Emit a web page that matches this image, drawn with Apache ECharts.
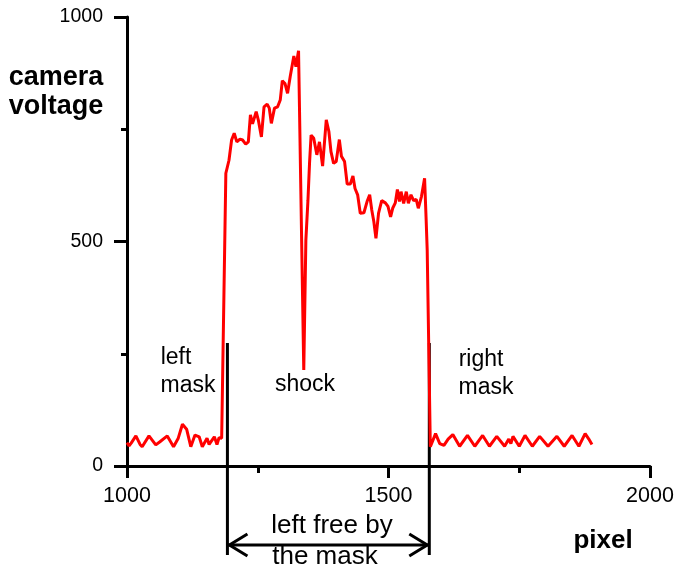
<!DOCTYPE html>
<html>
<head>
<meta charset="utf-8">
<script src="https://cdn.jsdelivr.net/npm/echarts@6/dist/echarts.min.js"></script>
<style>
html,body{margin:0;padding:0;background:#fff;}
#chart{width:679px;height:571px;}
</style>
</head>
<body>
<div id="chart"></div>
<script>
// ---- data ----
const pixel = [
  1000,1004,1008,1017,1025,1029,1042,1055,1063,1077,1089,1098,1106,1114,1122,1130,1138,1144,1153,1157,1167,1172,1176,1181,
  1189,1195,1200,1205,1210,1216,1221,1227,1232,1236,1240,1247,1251,1257,1262,1268,1272,1276,1282,1288,1293,1297,1302,1307,1312,1319,1323,1328,
  1338,1342,1346,1349,1352,1357,1363,1368,1374,1381,1386,1390,1395,1400,1406,1410,1416,1421,1427,1432,1436,1441,1446,1453,1459,1464,1468,1472,1476,1481,1487,1494,1499,1504,1508,1513,1517,1521,1524,1529,1534,1538,1543,1548,1553,1557,1563,1569,1572,1574,
  1580,1590,1598,1606,1614,1623,1636,1651,1665,1680,1693,1707,1722,1730,1734,1738,1750,1761,1775,1789,1805,1822,1836,1851,1864,1876,1883,1889
];
const voltage = [
  52,45,51,67,48,43,67,47,54,67,43,62,93,82,43,69,65,43,62,48,65,48,63,62,
  652,681,726,741,722,728,726,717,722,782,762,789,771,733,800,806,797,763,797,800,815,858,852,830,867,913,889,925,
  214,503,592,674,737,730,693,722,668,771,745,700,674,678,727,690,678,628,628,646,618,604,563,564,589,604,570,544,507,563,591,586,578,555,574,586,616,589,611,585,611,585,604,591,594,574,600,641,548,481,
  43,72,50,46,60,70,44,68,44,68,44,66,44,60,50,66,44,68,44,66,44,66,44,68,44,72,60,48
];
const xTicks = [1000, 1500, 2000];
const yTicks = [0, 500, 1000];
const maskEdges = [1192, 1578];
const maskTopVoltage = 274;

const seriesData = pixel.map((p, i) => [p, voltage[i]]);

const chart = echarts.init(document.getElementById('chart'), null, {renderer: 'canvas'});
const FONT = 'Liberation Sans, Arial, sans-serif';

chart.setOption({
  animation: false,
  backgroundColor: '#ffffff',
  grid: {left: 127, top: 17, right: 29, bottom: 105, containLabel: false},
  xAxis: {
    type: 'value',
    min: xTicks[0], max: xTicks[xTicks.length - 1], interval: 500,
    axisLine: {show: true, lineStyle: {color: '#000', width: 3}},
    axisTick: {show: true, inside: false, length: 12, lineStyle: {color: '#000', width: 3}},
    minorTick: {show: true, splitNumber: 2, length: 7, lineStyle: {color: '#000', width: 3}},
    splitLine: {show: false},
    axisLabel: {show: true, margin: 19, color: '#000', fontSize: 21.5, fontFamily: FONT, showMinLabel: true, showMaxLabel: true,
      formatter: v => String(v)}
  },
  yAxis: {
    type: 'value',
    min: yTicks[0], max: yTicks[yTicks.length - 1], interval: 500,
    axisLine: {show: true, lineStyle: {color: '#000', width: 3}},
    axisTick: {show: true, inside: false, length: 13, lineStyle: {color: '#000', width: 3}},
    minorTick: {show: true, splitNumber: 2, length: 6, lineStyle: {color: '#000', width: 3}},
    splitLine: {show: false},
    axisLabel: {show: true, margin: 24, color: '#000', fontSize: 19.5, fontFamily: FONT, showMinLabel: true, showMaxLabel: true,
      formatter: v => String(v)}
  },
  series: [{
    type: 'line',
    data: seriesData,
    showSymbol: false,
    symbol: 'none',
    lineStyle: {color: '#ff0000', width: 3},
    clip: false
  }]
});

// annotations placed from data coordinates
const leftTop = chart.convertToPixel({gridIndex: 0}, [maskEdges[0], maskTopVoltage]);
const rightTop = chart.convertToPixel({gridIndex: 0}, [maskEdges[1], maskTopVoltage]);
const lx = leftTop[0], rx = rightTop[0];
const lineBottom = 555;
const arrowY = 545;
const ah = 20, aw = 11;

const txt = (x, y, s, opts) => Object.assign({
  type: 'text', x: x, y: y,
  style: Object.assign({text: s, fill: '#000', font: '23px ' + FONT, textAlign: 'center', textVerticalAlign: 'middle'}, opts || {})
});

chart.setOption({
  graphic: [
    {type: 'line', shape: {x1: lx, y1: leftTop[1], x2: lx, y2: lineBottom}, style: {stroke: '#000', lineWidth: 3}},
    {type: 'line', shape: {x1: rx, y1: rightTop[1], x2: rx, y2: lineBottom}, style: {stroke: '#000', lineWidth: 3}},
    {type: 'line', shape: {x1: lx, y1: arrowY, x2: rx, y2: arrowY}, style: {stroke: '#000', lineWidth: 3}},
    {type: 'polyline', shape: {points: [[lx + ah, arrowY - aw], [lx + 2, arrowY], [lx + ah, arrowY + aw]]}, style: {stroke: '#000', lineWidth: 3, fill: null}},
    {type: 'polyline', shape: {points: [[rx - ah, arrowY - aw], [rx - 2, arrowY], [rx - ah, arrowY + aw]]}, style: {stroke: '#000', lineWidth: 3, fill: null}},
    txt(176, 358, 'left'),
    txt(188, 386, 'mask'),
    txt(305, 385, 'shock'),
    txt(481, 360, 'right'),
    txt(486, 388, 'mask'),
    txt(332, 526, 'left free by', {font: '26px ' + FONT}),
    txt(325, 557, 'the mask', {font: '26px ' + FONT}),
    txt(603, 541, 'pixel', {font: 'bold 26px ' + FONT}),
    txt(56, 78, 'camera', {font: 'bold 27px ' + FONT}),
    txt(56, 107, 'voltage', {font: 'bold 27px ' + FONT})
  ]
});
</script>
</body>
</html>
